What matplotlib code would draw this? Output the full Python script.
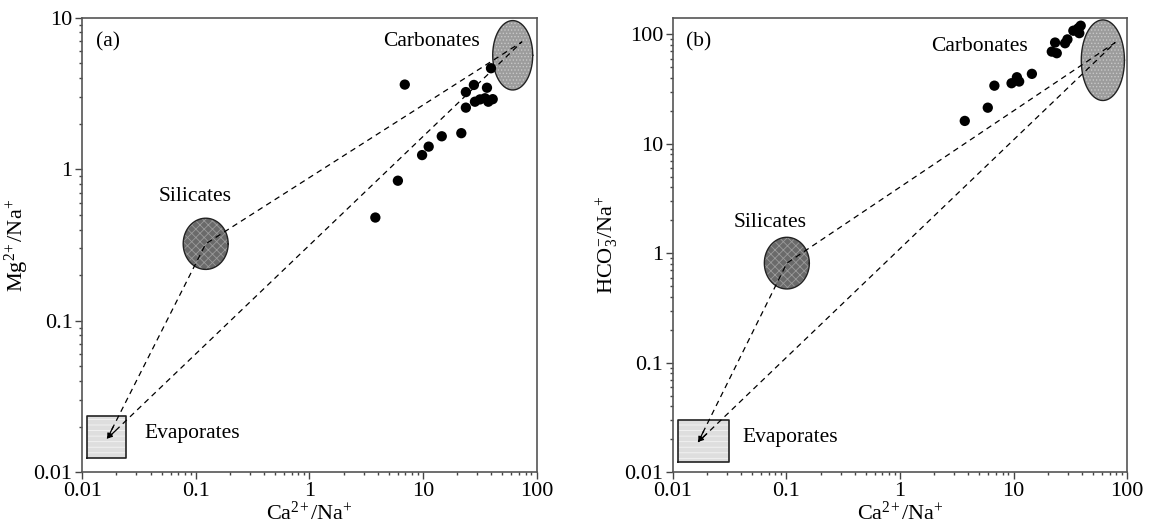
import numpy as np
import matplotlib
matplotlib.use("Agg")
import matplotlib.pyplot as plt

plt.rcParams['font.family'] = ['Liberation Serif', 'DejaVu Serif']
plt.rcParams['mathtext.fontset'] = 'custom'
plt.rcParams['mathtext.rm'] = 'Liberation Serif'
plt.rcParams['mathtext.it'] = 'Liberation Serif:italic'
plt.rcParams['hatch.linewidth'] = 0.6

# sample points, panel (a): Ca/Na vs Mg/Na
a_x = [6.9, 3.8, 6.0, 9.8, 11.2, 14.6, 21.7, 23.8, 23.8, 28.0, 36.5, 28.6, 31.7, 35.1, 37.5, 41.0, 39.6]
a_y = [3.62, 0.48, 0.84, 1.24, 1.41, 1.65, 1.73, 2.55, 3.23, 3.60, 3.45, 2.79, 2.89, 2.94, 2.79, 2.90, 4.64]

# sample points, panel (b): Ca/Na vs HCO3/Na
b_x = [3.72, 5.93, 6.78, 9.6, 10.7, 11.2, 14.5, 21.7, 23.2, 24.0, 28.4, 29.8, 33.6, 36.0, 37.2, 39.0, 37.9]
b_y = [16.2, 21.4, 34.0, 35.8, 40.6, 37.1, 43.6, 69.6, 84.2, 67.3, 83.0, 90.0, 108.0, 110.0, 114.0, 120.0, 102.6]

# end-member fields
a_carb = (61.5, 5.65)
a_sil = (0.122, 0.322)
a_evap = (0.011, 0.0244, 0.0125, 0.0236)   # x0, x1, y0, y1
b_carb = (61.1, 58.1)
b_sil = (0.101, 0.814)
b_evap = (0.0112, 0.0315, 0.01245, 0.0299)

# mixing line vertices: evaporite -> silicate -> carbonate -> evaporite
a_mix_x = [0.0166, 0.122, 74.0, 0.0166]
a_mix_y = [0.0167, 0.322, 6.92, 0.0167]
b_mix_x = [0.0168, 0.101, 78.3, 0.0168]
b_mix_y = [0.019, 0.814, 84.1, 0.019]

ticks = [0.01, 0.1, 1, 10, 100]
tick_labels = ['0.01', '0.1', '1', '10', '100']

fig = plt.figure(figsize=(11.49, 5.27), dpi=100)
ax1 = fig.add_axes([0.0716, 0.1038, 0.3955, 0.8626])
ax2 = fig.add_axes([0.5855, 0.1038, 0.3955, 0.8626])


def ellipse(ax, c, rx, ry, fc, hc, hatch):
    t = np.linspace(0, 2 * np.pi, 200)
    ex = 10 ** (np.log10(c[0]) + rx * np.cos(t))
    ey = 10 ** (np.log10(c[1]) + ry * np.sin(t))
    ax.fill(ex, ey, facecolor=fc, edgecolor=hc, hatch=hatch, lw=0, zorder=2)
    ax.plot(ex, ey, color='#222222', lw=1.0, zorder=2)


def box(ax, b):
    bx = [b[0], b[1], b[1], b[0], b[0]]
    by = [b[2], b[2], b[3], b[3], b[2]]
    ax.fill(bx, by, facecolor='#dedede', edgecolor='#f4f4f4', hatch='---', lw=0, zorder=2)
    ax.plot(bx, by, color='#222222', lw=1.2, zorder=2)


def mixing(ax, mx, my):
    ax.plot(mx, my, color='black', lw=0.9, ls=(0, (4.5, 3.5)), zorder=3)
    # small arrow heads at the evaporite end
    for j, f in ((1, 0.06), (2, 0.02)):
        lx0, ly0 = np.log10(mx[j]), np.log10(my[j])
        lx1, ly1 = np.log10(mx[0]), np.log10(my[0])
        sx = 10 ** (lx1 + (lx0 - lx1) * f)
        sy = 10 ** (ly1 + (ly0 - ly1) * f)
        ax.annotate('', xy=(mx[0], my[0]), xytext=(sx, sy),
                    arrowprops=dict(arrowstyle='-|>', color='black', lw=0.9,
                                    mutation_scale=7, shrinkA=0, shrinkB=0),
                    zorder=3)


def style(ax, ylim, yticks):
    ax.set_xscale('log')
    ax.set_yscale('log')
    ax.set_xlim(0.01, 100)
    ax.set_ylim(*ylim)
    ax.set_xticks(ticks, tick_labels)
    ax.set_yticks(yticks, [tick_labels[ticks.index(v)] for v in yticks])
    ax.tick_params(which='major', direction='out', length=5, width=1.0,
                   color='#444444', labelsize=16, pad=2)
    ax.tick_params(which='minor', direction='out', length=2.5, width=1.0,
                   color='#444444')
    ax.tick_params(which='minor', labelbottom=False, labelleft=False)
    for s in ax.spines.values():
        s.set_color('#555555')
        s.set_linewidth(1.2)
    ax.set_xlabel(r'Ca$^{2\!+}$/Na$^{+}$', fontsize=16, labelpad=0.5)


# panel (a)
ellipse(ax1, a_carb, 0.176, 0.229, '#9c9c9c', '#c8c8c8', '.....')
ellipse(ax1, a_sil, 0.198, 0.169, '#6a6a6a', '#9a9a9a', 'xxxx')
box(ax1, a_evap)
mixing(ax1, a_mix_x, a_mix_y)
ax1.scatter(a_x, a_y, s=55, color='black', edgecolors='none', zorder=4)
ax1.text(11.8, 6.95, 'Carbonates', fontsize=15.5, ha='center', va='center')
ax1.text(0.0975, 0.656, 'Silicates', fontsize=15.5, ha='center', va='center')
ax1.text(0.0351, 0.0179, 'Evaporates', fontsize=15.5, ha='left', va='center')
ax1.text(0.03, 0.947, '(a)', fontsize=15.5, transform=ax1.transAxes, ha='left', va='center')
style(ax1, (0.01, 10), [0.01, 0.1, 1, 10])
ax1.set_ylabel(r'Mg$^{2\!+}$/Na$^{+}$', fontsize=16, labelpad=2)

# panel (b)
ellipse(ax2, b_carb, 0.19, 0.368, '#9c9c9c', '#c8c8c8', '.....')
ellipse(ax2, b_sil, 0.198, 0.236, '#6a6a6a', '#9a9a9a', 'xxxx')
box(ax2, b_evap)
mixing(ax2, b_mix_x, b_mix_y)
ax2.scatter(b_x, b_y, s=55, color='black', edgecolors='none', zorder=4)
ax2.text(5.0, 78, 'Carbonates', fontsize=15.5, ha='center', va='center')
ax2.text(0.0723, 1.93, 'Silicates', fontsize=15.5, ha='center', va='center')
ax2.text(0.0413, 0.0207, 'Evaporates', fontsize=15.5, ha='left', va='center')
ax2.text(0.03, 0.947, '(b)', fontsize=15.5, transform=ax2.transAxes, ha='left', va='center')
style(ax2, (0.01, 142), [0.01, 0.1, 1, 10, 100])
ax2.set_ylabel(r'HCO$_{3}^{-}$/Na$^{+}$', fontsize=16, labelpad=2)

fig.savefig('out.png', dpi=100)
